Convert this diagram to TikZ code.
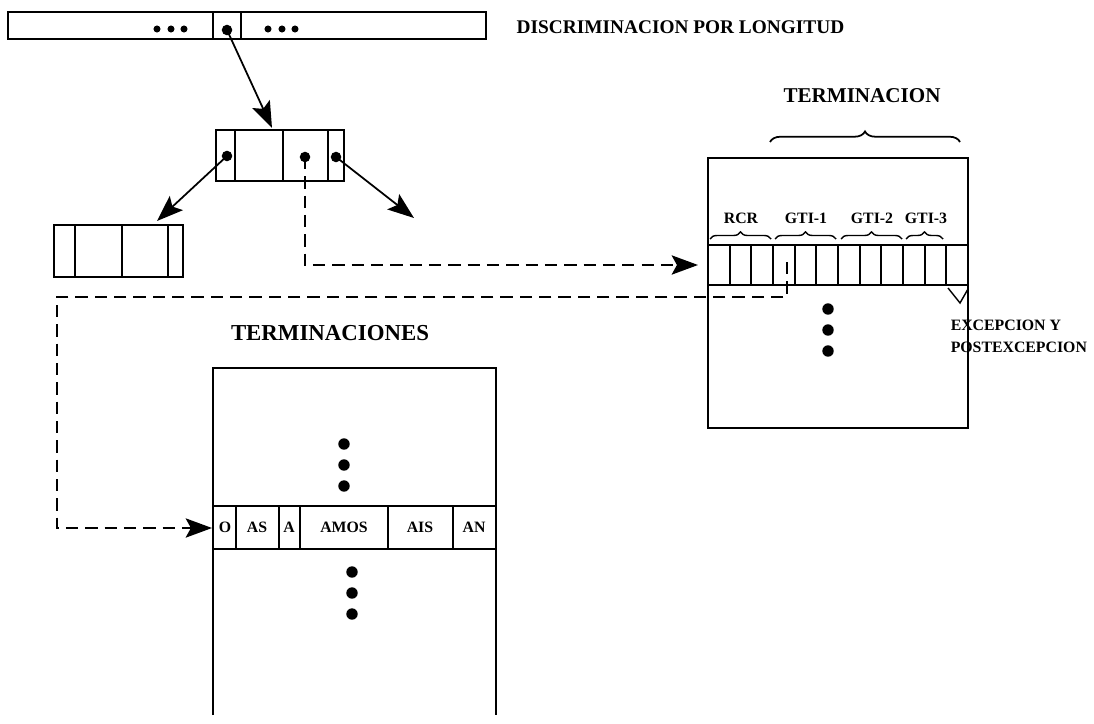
\documentclass[tikz,border=0pt]{standalone}
\usepackage{fontspec}
\setmainfont{Liberation Serif}
\usetikzlibrary{arrows.meta,decorations.pathreplacing}

\begin{document}
\begin{tikzpicture}[x=0.02cm,y=-0.02cm,line width=1pt]
    \tikzstyle{every node}=[font=\bfseries\small]
    \tikzstyle{ball}=[circle,fill,inner sep=0pt,minimum size=6pt]
    \tikzstyle{tinyball}=[circle,fill,inner sep=0pt,minimum size=4pt]
    \tikzstyle{bigball}=[circle,fill,inner sep=0pt,minimum size=6.5pt]
    \tikzstyle{ptr}=[-{Stealth[length=15pt,width=11pt,inset=3pt]}]
    \tikzstyle{lnk}=[ptr,dash pattern=on 7pt off 4pt]
    \tikzstyle{cellcap}=[font=\bfseries\fontsize{9}{10}\selectfont]
    \tikzstyle{grp}=[decorate,decoration={brace,amplitude=4pt},line width=0.8pt]
    \useasboundingbox (0,0) rectangle (1094,723);

    \draw (8,12) rectangle (486,39);
    \draw (213,12) -- (213,39) (241,12) -- (241,39);
    \foreach \x in {157,171,184,268,282,295}
        \node[tinyball] at (\x,29) {};
    \node[ball] (lenptr) at (227,30) {};
    \node[anchor=west,font=\bfseries\fontsize{11}{13}\selectfont] (disc) at (510,27)
        {DISCRIMINACION POR LONGITUD};

    \draw (216,130) rectangle (344,181);
    \draw (235,130) -- (235,181) (283,130) -- (283,181) (328,130) -- (328,181);
    \coordinate (midtop) at (272,128);
    \node[ball] (midl) at (227,156) {};
    \node[ball] (midc) at (305,157) {};
    \node[ball] (midr) at (336,157) {};
    \draw[ptr] (lenptr.center) -- (midtop);

    \draw (54,225) rectangle (183,277);
    \draw (75,225) -- (75,277) (122,225) -- (122,277) (168,225) -- (168,277);
    \coordinate (lefttop) at (157,221);
    \coordinate (rightend) at (414,218);
    \draw[ptr] (midl.center) -- (lefttop);
    \draw[ptr] (midr.center) -- (rightend);

    \node[font=\bfseries\fontsize{12}{14}\selectfont] (term) at (862,96) {TERMINACION};
    \draw[grp,line width=1pt,decoration={amplitude=6pt}] (770,142) -- (960,142);
    \draw (708,158) rectangle (968,428);
    \draw (708,245) -- (968,245) (708,285) -- (968,285);
    \foreach \i in {1,...,11}
        \draw ({708+\i*260/12},245) -- ++(0,40);
    \draw[grp] (710,239) -- (771,239);
    \draw[grp] (775,239) -- (836,239);
    \draw[grp] (841,239) -- (902,239);
    \draw[grp] (906,239) -- (943,239);
    \node[cellcap] (rcr) at (741,218) {RCR};
    \node[cellcap] (gti1) at (806,218) {GTI-1};
    \node[cellcap] (gti2) at (872,218) {GTI-2};
    \node[cellcap] (gti3) at (926,218) {GTI-3};
    \coordinate (tin) at (698,265);
    \draw[lnk] (midc.center) |- (tin);
    \draw[line width=0.8pt] (948,288) -- (960,303) -- (968,289);
    \node[anchor=north west,align=left,font=\bfseries\fontsize{9}{12.5}\selectfont] (exc)
        at (944,313) {EXCEPCION Y\\POSTEXCEPCION};
    \foreach \y in {309,330,351}
        \node[bigball] at (828,\y) {};

    \node[font=\bfseries\fontsize{13}{15}\selectfont] (terms) at (330,333) {TERMINACIONES};
    \draw (213,715) -- (213,368) -- (496,368) -- (496,715);
    \draw (213,506) -- (496,506) (213,549) -- (496,549);
    \foreach \x in {236,279,300,388,453}
        \draw (\x,506) -- (\x,549);
    \node[cellcap] (co) at (225,527) {O};
    \node[cellcap] (cas) at (257,527) {AS};
    \node[cellcap] (ca) at (289,527) {A};
    \node[cellcap] (camos) at (344,527) {AMOS};
    \node[cellcap] (cais) at (420,527) {AIS};
    \node[cellcap] (can) at (474,527) {AN};
    \foreach \y in {444,465,486}
        \node[bigball] at (344,\y) {};
    \foreach \y in {572,593,614}
        \node[bigball] at (352,\y) {};

    \coordinate (gsrc) at (787,262);
    \coordinate (bend) at (57,297);
    \coordinate (tin2) at (212,528);
    \draw[lnk] (gsrc) |- (bend) |- (tin2);
\end{tikzpicture}
\end{document}
